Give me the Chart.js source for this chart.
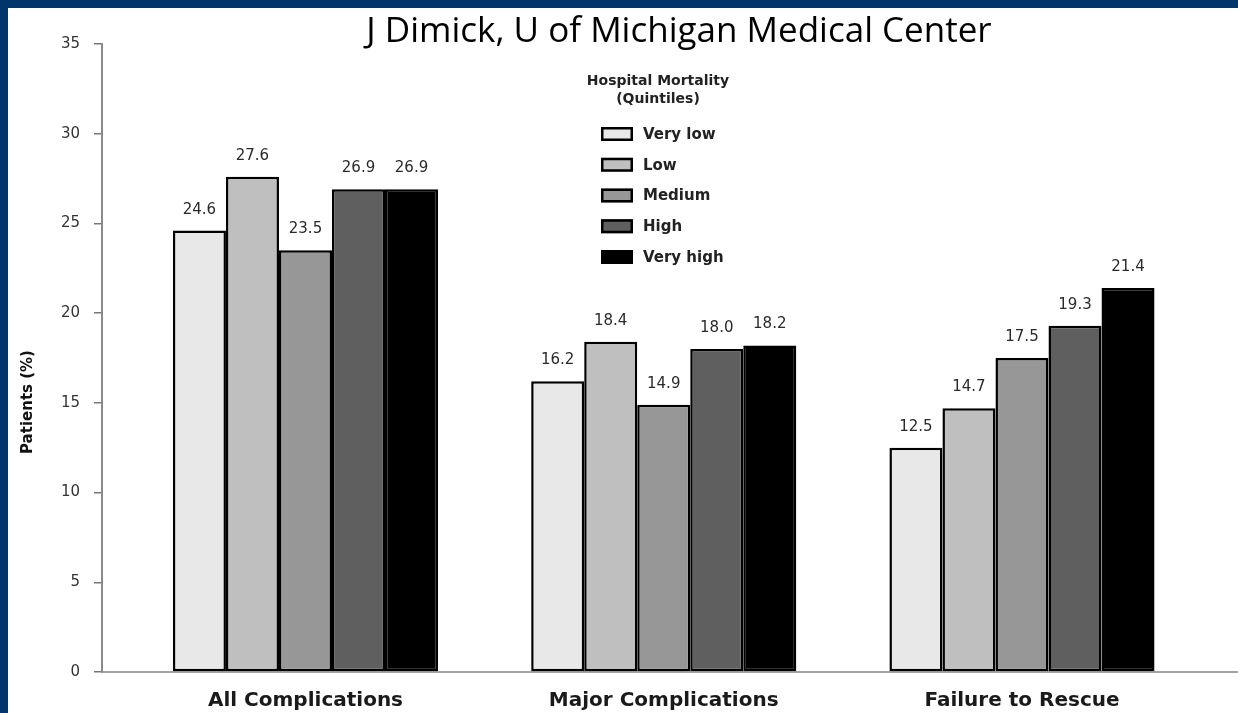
<!DOCTYPE html>
<html>
<head>
<meta charset="utf-8">
<script src="https://cdn.jsdelivr.net/npm/chart.js@4/dist/chart.umd.min.js"></script>
<style>
  html, body { margin: 0; padding: 0; width: 1238px; height: 713px; overflow: hidden; background: #00366b; }
  #frame { position: absolute; left: 8px; top: 8px; width: 1230px; height: 705px; background: #ffffff; }
  canvas { display: block; }
</style>
</head>
<body>
<div id="frame"><canvas id="chart" width="1230" height="705"></canvas></div>
<script>
// Outcome rates by hospital mortality quintile
const chartTitle = 'J Dimick, U of Michigan Medical Center';
const keyTitle = ['Hospital Mortality', '(Quintiles)'];
const yAxisTitle = 'Patients (%)';
const categories = ['All Complications', 'Major Complications', 'Failure to Rescue'];
const quintiles = ['Very low', 'Low', 'Medium', 'High', 'Very high'];
const veryLow  = [24.6, 16.2, 12.5];
const low      = [27.6, 18.4, 14.7];
const medium   = [23.5, 14.9, 17.5];
const high     = [26.9, 18.0, 19.3];
const veryHigh = [26.9, 18.2, 21.4];
const yTicks = [0, 5, 10, 15, 20, 25, 30, 35];

const fills = ['#e8e8e8', '#bfbfbf', '#979797', '#5f5f5f', '#000000'];
const series = [veryLow, low, medium, high, veryHigh];

const datasets = series.map((vals, k) => ({
  label: quintiles[k],
  data: vals.map((v, i) => ({ x: i, y: v })),
  backgroundColor: fills[k],
  borderColor: '#000000',
  borderWidth: 2.5,
  borderSkipped: false,
  categoryPercentage: 0.74,
  barPercentage: 1.0
}));

// Value labels, key, chart title and rotated axis title
const annotations = {
  id: 'annotations',
  afterDatasetsDraw(chart) {
    const ctx = chart.ctx;
    ctx.save();

    ctx.font = '15px "DejaVu Sans"';
    ctx.fillStyle = '#2a2a2a';
    ctx.textAlign = 'center';
    ctx.textBaseline = 'alphabetic';
    chart.data.datasets.forEach((ds, k) => {
      chart.getDatasetMeta(k).data.forEach((bar, i) => {
        ctx.fillText(ds.data[i].y.toFixed(1), bar.x, bar.y - 17);
      });
    });

    ctx.font = '35px "Open Sans"';
    ctx.fillStyle = '#000000';
    ctx.fillText(chartTitle, 671, 34);

    ctx.font = 'bold 14px "DejaVu Sans"';
    ctx.fillStyle = '#222222';
    ctx.fillText(keyTitle[0], 650, 77);
    ctx.fillText(keyTitle[1], 650, 95);

    ctx.textAlign = 'left';
    ctx.textBaseline = 'middle';
    chart.data.datasets.forEach((ds, k) => {
      const cy = 126 + k * 30.75;
      ctx.fillStyle = ds.backgroundColor;
      ctx.fillRect(593, cy - 7, 32, 14);
      ctx.lineWidth = 2.5;
      ctx.strokeStyle = '#000000';
      ctx.strokeRect(594.25, cy - 5.75, 29.5, 11.5);
      ctx.fillStyle = '#222222';
      ctx.font = 'bold 15px "DejaVu Sans"';
      ctx.fillText(ds.label, 635, cy + 1);
    });

    ctx.translate(20, 394);
    ctx.rotate(-Math.PI / 2);
    ctx.textAlign = 'center';
    ctx.font = 'bold 15px "DejaVu Sans"';
    ctx.fillStyle = '#111111';
    ctx.fillText(yAxisTitle, 0, 0);
    ctx.restore();
  }
};

new Chart(document.getElementById('chart'), {
  type: 'bar',
  data: { datasets },
  options: {
    responsive: false,
    animation: false,
    devicePixelRatio: 1,
    layout: { padding: { top: 36, right: 0, bottom: 0, left: 0 } },
    plugins: {
      legend: { display: false },
      title: { display: false },
      tooltip: { enabled: false }
    },
    scales: {
      x: {
        type: 'linear',
        offset: false,
        min: -0.568,
        max: 2.603,
        afterBuildTicks: s => { s.ticks = categories.map((_, i) => ({ value: i })); },
        afterFit: s => { s.height = 41; },
        grid: { display: true, offset: false, drawOnChartArea: false, drawTicks: false },
        border: { display: true, color: '#a3a3a3', width: 2 },
        ticks: {
          autoSkip: false,
          maxRotation: 0,
          padding: 17,
          color: '#1a1a1a',
          font: { family: 'DejaVu Sans', weight: 'bold', size: 20 },
          callback: v => categories[v] ?? ''
        }
      },
      y: {
        min: 0,
        max: 35,
        afterBuildTicks: s => { s.ticks = yTicks.map(v => ({ value: v })); },
        afterFit: s => { s.width = 94; },
        grid: { drawOnChartArea: false, drawTicks: true, tickLength: 8, color: '#777777', lineWidth: 1.5 },
        border: { display: true, color: '#8a8a8a', width: 2 },
        ticks: {
          padding: 14,
          color: '#333333',
          font: { family: 'DejaVu Sans', size: 15 }
        }
      }
    }
  },
  plugins: [annotations]
});
</script>
</body>
</html>
